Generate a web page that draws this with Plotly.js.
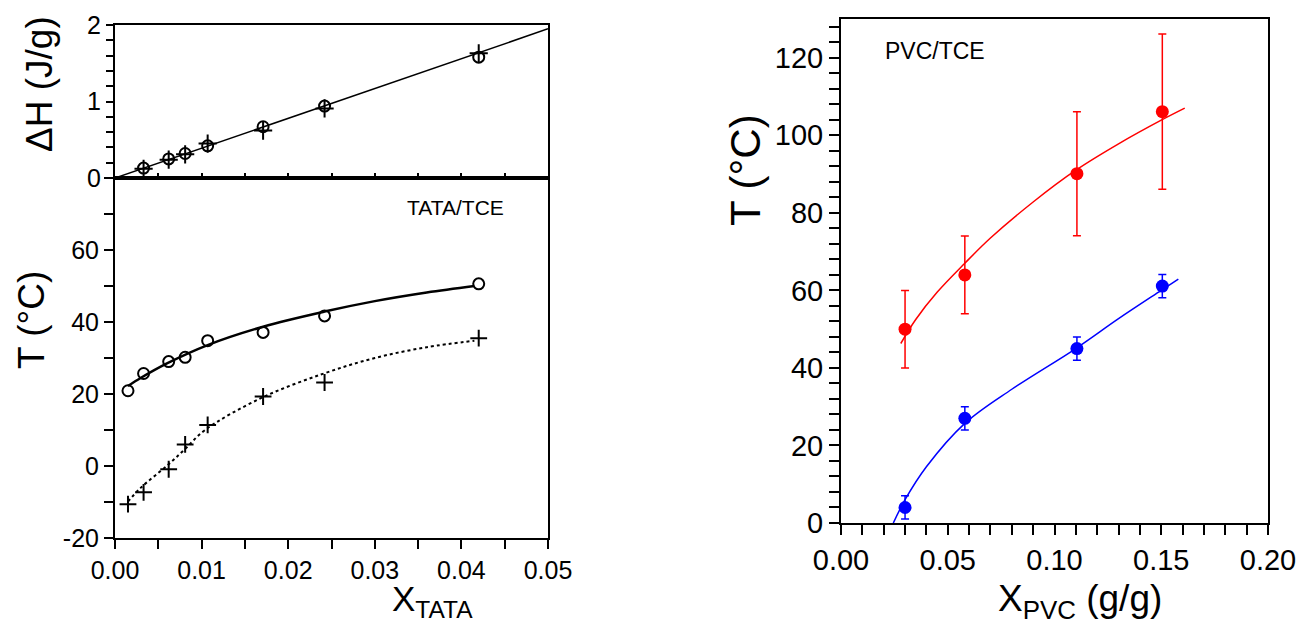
<!DOCTYPE html>
<html><head><meta charset="utf-8">
<script src="https://cdn.plot.ly/plotly-3.0.1.min.js"></script>
<style>html,body{margin:0;padding:0;background:#fff}#chart{width:1301px;height:624px}</style>
</head><body><div id="chart"></div>
<script>
// ---- TATA/TCE: enthalpy panel ----
const dhX = [0.0033, 0.0062, 0.0081, 0.0107, 0.0171, 0.0242, 0.0420];
const dhCircle = [0.13, 0.25, 0.32, 0.42, 0.67, 0.94, 1.58];
const dhCross = [0.12, 0.24, 0.31, 0.45, 0.62, 0.91, 1.63];
const dhFitX = [0, 0.05];
const dhFitY = [0, 1.95];
const dhTickLabels = ['0', '1', '2'];
// ---- TATA/TCE: temperature panel ----
const tX = [0.0015, 0.0033, 0.0062, 0.0081, 0.0107, 0.0171, 0.0242, 0.0420];
const tCircle = [20.9, 25.7, 29.0, 30.2, 34.8, 37.1, 41.7, 50.6];
const tCross = [-10.6, -7.3, -0.9, 6.0, 11.4, 19.3, 23.2, 35.5];
const fitCircleX = [0.0015, 0.003, 0.006, 0.0107, 0.0171, 0.0242, 0.030, 0.036, 0.0415];
const fitCircleY = [22.2, 24.5, 28.5, 33.6, 38.7, 42.9, 45.8, 48.2, 50.0];
const fitCrossX = [0.0015, 0.003, 0.0061, 0.008, 0.0104, 0.0169, 0.024, 0.030, 0.036, 0.0415];
const fitCrossY = [-9.9, -6.0, 0.3, 4.5, 10.0, 18.9, 25.6, 30.0, 33.0, 34.8];
const tTickLabels = ['-20', '', '0', '', '20', '', '40', '', '60', '', ''];
const xTataTickLabels = ['0.00', '', '0.01', '', '0.02', '', '0.03', '', '0.04', '', '0.05'];
// ---- PVC/TCE ----
const pvcX = [0.030, 0.058, 0.1105, 0.1505];
const pvcRed = [50.0, 64.0, 90.1, 106.1];
const pvcRedErr = [10, 10, 16, 20];
const pvcBlue = [4.0, 27.0, 45.0, 61.1];
const pvcBlueErr = [3, 3, 3, 3];
const redFitX = [0.028, 0.035, 0.045, 0.058, 0.070, 0.090, 0.110, 0.130, 0.150, 0.161];
const redFitY = [46.3, 52.5, 59.5, 67.0, 73.5, 82.8, 91.0, 97.8, 103.9, 107.0];
const blueFitX = [0.0245, 0.030, 0.040, 0.058, 0.080, 0.110, 0.130, 0.150, 0.158];
const blueFitY = [0.0, 6.0, 14.5, 25.7, 34.5, 45.0, 52.7, 60.0, 62.9];
const pvcYTickLabels = ['0', '20', '40', '60', '80', '100', '120'];
const pvcXTickLabels = ['0.00', '0.05', '0.10', '0.15', '0.20'];

const FONT = 'Liberation Sans, Arial, sans-serif';
const W = 1301, H = 624;
const px = v => v / W, py = v => 1 - v / H;

// tick positions: every minor step, labelled only at major steps
function ticks(start, end, minor, major, labels) {
  const vals = [], text = [];
  const n = Math.round((end - start) / minor);
  const per = Math.round(major / minor);
  for (let i = 0; i <= n; i++) {
    vals.push(Math.round((start + i * minor) * 1e6) / 1e6);
    text.push(i % per === 0 ? (labels[i / per] !== undefined ? labels[i / per] : '') : '');
  }
  return {vals, text};
}
const tkDH = ticks(0, 2, 0.2, 1, dhTickLabels);
const tkT = {vals: [-20,-10,0,10,20,30,40,50,60,70,80], text: tTickLabels};
const tkXT = {vals: ticks(0, 0.05, 0.005, 0.005, []).vals, text: xTataTickLabels};
const tkPY = ticks(0, 128, 4, 20, pvcYTickLabels);
const tkPX = ticks(0, 0.2, 0.01, 0.05, pvcXTickLabels);

const traces = [
  {x: dhFitX, y: dhFitY, xaxis:'x', yaxis:'y', mode:'lines', line:{color:'#000', width:1.5}, hoverinfo:'skip'},
  {x: dhX, y: dhCircle, xaxis:'x', yaxis:'y', mode:'markers', marker:{symbol:'circle-open', size:11, color:'#000', line:{width:2}}},
  {x: dhX, y: dhCross, xaxis:'x', yaxis:'y', mode:'markers', marker:{symbol:'cross-thin-open', size:13, color:'#000', line:{width:2}}},
  {x: fitCircleX, y: fitCircleY, xaxis:'x2', yaxis:'y2', mode:'lines', line:{color:'#000', width:2.5, shape:'spline'}},
  {x: fitCrossX, y: fitCrossY, xaxis:'x2', yaxis:'y2', mode:'lines', line:{color:'#000', width:2, dash:'dot', shape:'spline'}},
  {x: tX, y: tCircle, xaxis:'x2', yaxis:'y2', mode:'markers', marker:{symbol:'circle-open', size:11, color:'#000', line:{width:2}}},
  {x: tX, y: tCross, xaxis:'x2', yaxis:'y2', mode:'markers', marker:{symbol:'cross-thin-open', size:12, color:'#000', line:{width:2}}},
  {x: redFitX, y: redFitY, xaxis:'x3', yaxis:'y3', mode:'lines', line:{color:'#ff0000', width:1.5, shape:'spline'}},
  {x: blueFitX, y: blueFitY, xaxis:'x3', yaxis:'y3', mode:'lines', line:{color:'#0000ff', width:1.5, shape:'spline'}},
  {x: pvcX, y: pvcRed, xaxis:'x3', yaxis:'y3', mode:'markers', marker:{symbol:'circle', size:13, color:'#ff0000'},
   error_y:{type:'data', array: pvcRedErr, color:'#ff0000', thickness:1.5, width:4}},
  {x: pvcX, y: pvcBlue, xaxis:'x3', yaxis:'y3', mode:'markers', marker:{symbol:'circle', size:13, color:'#0000ff'},
   error_y:{type:'data', array: pvcBlueErr, color:'#0000ff', thickness:1.5, width:4}}
];

const axBase = {showgrid:false, zeroline:false, showline:true, linecolor:'#000', linewidth:2, mirror:true,
  tickcolor:'#000', tickwidth:2, color:'#000', fixedrange:true, tickmode:'array'};

const layout = {
  width: W, height: H, margin:{l:0, r:0, t:0, b:0}, showlegend:false,
  paper_bgcolor:'#fff', plot_bgcolor:'#fff',
  font:{family: FONT, color:'#000'},
  // top-left panel
  xaxis: Object.assign({}, axBase, {domain:[px(115), px(548)], anchor:'y', range:[0,0.05], showticklabels:false,
    ticks:'inside', tickvals: tkXT.vals, ticklen:5}),
  yaxis: Object.assign({}, axBase, {domain:[py(178), py(25)], anchor:'x', range:[0,2], tickvals:tkDH.vals, ticktext:tkDH.text,
    ticks:'outside', ticklen:7, tickfont:{size:25, family:FONT}}),
  // bottom-left panel
  xaxis2: Object.assign({}, axBase, {domain:[px(115), px(548)], anchor:'y2', range:[0,0.05], tickvals:tkXT.vals, ticktext:tkXT.text,
    ticks:'outside', ticklen:9, tickfont:{size:25, family:FONT}}),
  yaxis2: Object.assign({}, axBase, {domain:[py(538), py(178)], anchor:'x2', range:[-20,80], tickvals:tkT.vals, ticktext:tkT.text,
    ticks:'outside', ticklen:9, tickfont:{size:25, family:FONT}}),
  // right panel
  xaxis3: Object.assign({}, axBase, {domain:[px(841), px(1268)], anchor:'y3', range:[0,0.2], tickvals:tkPX.vals, ticktext:tkPX.text,
    ticks:'outside', ticklen:10, tickfont:{size:29, family:FONT}}),
  yaxis3: Object.assign({}, axBase, {domain:[py(523), py(19)], anchor:'x3', range:[0,130], tickvals:tkPY.vals, ticktext:tkPY.text,
    ticks:'outside', ticklen:10, tickfont:{size:29, family:FONT}}),
  annotations: [
    {xref:'paper', yref:'paper', x:px(40), y:py(84), text:'ΔH (J/g)', textangle:-90, showarrow:false, font:{size:37, family:FONT}, xanchor:'center', yanchor:'middle'},
    {xref:'paper', yref:'paper', x:px(31), y:py(320), text:'T (°C)', textangle:-90, showarrow:false, font:{size:37, family:FONT}, xanchor:'center', yanchor:'middle'},
    {xref:'paper', yref:'paper', x:px(746), y:py(170), text:'T (°C)', textangle:-90, showarrow:false, font:{size:42, family:FONT}, xanchor:'center', yanchor:'middle'},
    {xref:'paper', yref:'paper', x:px(432), y:py(601), text:'X<sub>TATA</sub>', showarrow:false, font:{size:35, family:FONT}, xanchor:'center', yanchor:'middle'},
    {xref:'paper', yref:'paper', x:px(1080), y:py(601), text:'X<sub>PVC</sub> (g/g)', showarrow:false, font:{size:37, family:FONT}, xanchor:'center', yanchor:'middle'},
    {xref:'paper', yref:'paper', x:px(455), y:py(208), text:'TATA/TCE', showarrow:false, font:{size:21, family:FONT}, xanchor:'center', yanchor:'middle'},
    {xref:'paper', yref:'paper', x:px(935), y:py(51), text:'PVC/TCE', showarrow:false, font:{size:23, family:FONT}, xanchor:'center', yanchor:'middle'}
  ]
};

Plotly.newPlot('chart', traces, layout, {staticPlot:true, displayModeBar:false});
</script></body></html>
